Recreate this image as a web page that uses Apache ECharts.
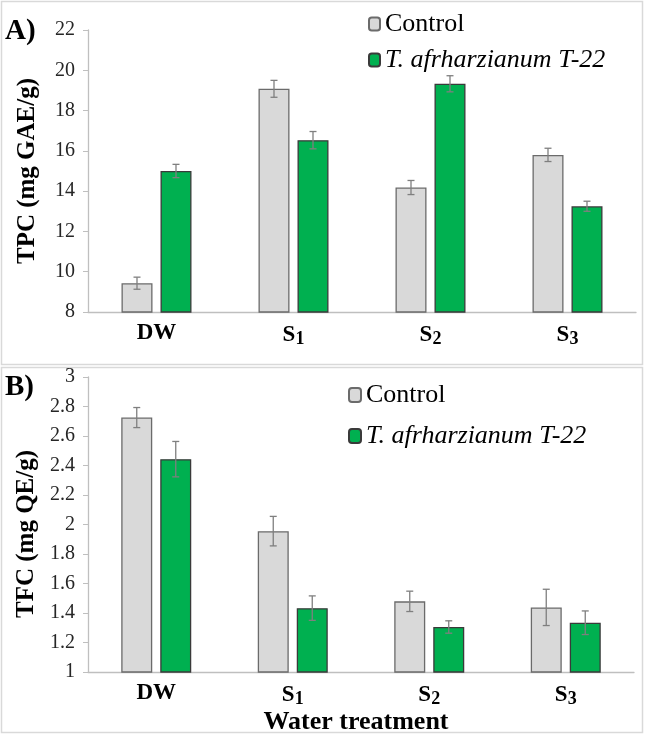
<!DOCTYPE html>
<html>
<head>
<meta charset="utf-8">
<script src="https://cdn.jsdelivr.net/npm/echarts@6/dist/echarts.min.js"></script>
<style>
html,body{margin:0;padding:0;background:#fff;}
#chart{width:645px;height:739px;}
</style>
</head>
<body>
<div id="chart"></div>
<script>
// ---- data ----
var categories = ['DW', 'S1', 'S2', 'S3'];
var seriesNames = ['Control', 'T. afrharzianum T-22'];
// Panel A: TPC (mg GAE/g)
var tpcControl = [9.43, 19.08, 14.18, 15.8];
var tpcControlErr = [0.3, 0.42, 0.35, 0.33];
var tpcTrich = [15.0, 16.53, 19.33, 13.25];
var tpcTrichErr = [0.33, 0.43, 0.4, 0.25];
// Panel B: TFC (mg QE/g)
var tfcControl = [2.725, 1.955, 1.479, 1.438];
var tfcControlErr = [0.068, 0.1, 0.069, 0.123];
var tfcTrich = [2.443, 1.433, 1.305, 1.334];
var tfcTrichErr = [0.12, 0.083, 0.042, 0.08];
// axis ranges / tick spacing
var tpcAxis = {min: 8, max: 22, interval: 2};
var tfcAxis = {min: 1, max: 3, interval: 0.2};

// ---- styling ----
var FONT = 'Liberation Serif';
var GREY = '#d9d9d9', GREEN = '#00b050';
var BAR_W = 31, GAP_PX = 8;
var OFF = (BAR_W + GAP_PX) / 2;

function errRender(offset) {
  return function (params, api) {
    var x = api.value(0), v = api.value(1), e = api.value(2);
    var t = api.coord([x, v + e]);
    var b = api.coord([x, v - e]);
    var cx = t[0] + offset, w = 3.5;
    var st = {stroke: '#7f7f7f', lineWidth: 1.3};
    return {
      type: 'group',
      children: [
        {type: 'line', shape: {x1: cx, y1: t[1], x2: cx, y2: b[1]}, style: st},
        {type: 'line', shape: {x1: cx - w, y1: t[1], x2: cx + w, y2: t[1]}, style: st},
        {type: 'line', shape: {x1: cx - w, y1: b[1], x2: cx + w, y2: b[1]}, style: st}
      ]
    };
  };
}
function errData(vals, errs) {
  return vals.map(function (v, i) { return [i, v, errs[i]]; });
}

function xAxisCfg(gi, withName) {
  var o = {
    type: 'category', gridIndex: gi, data: categories,
    axisLine: {show: true, lineStyle: {color: '#bfbfbf', width: 1.3}},
    axisTick: {show: false},
    axisLabel: {
      margin: 10, fontFamily: FONT,
      formatter: function (v) {
        return v.charAt(0) === 'S' ? '{b|S}{s|' + v.slice(1) + '}' : '{b|' + v + '}';
      },
      rich: {
        b: {fontFamily: FONT, fontWeight: 'bold', fontSize: 23, color: '#000'},
        s: {fontFamily: FONT, fontWeight: 'bold', fontSize: 18, color: '#000', padding: [8, 0, 0, 0]}
      }
    }
  };
  if (withName) {
    o.name = 'Water treatment';
    o.nameLocation = 'middle';
    o.nameGap = 27;
    o.nameTextStyle = {fontFamily: FONT, fontWeight: 'bold', fontSize: 26, color: '#000', padding: [0, 10, 0, 0]};
  }
  return o;
}
function yAxisCfg(gi, rng, name, pad) {
  return {
    type: 'value', gridIndex: gi, min: rng.min, max: rng.max, interval: rng.interval,
    name: name, nameLocation: 'middle', nameGap: 48, nameRotate: 90,
    nameTextStyle: {fontFamily: FONT, fontWeight: 'bold', fontSize: 25, color: '#000', padding: pad},
    axisLine: {show: true, lineStyle: {color: '#bfbfbf', width: 1.3}},
    axisTick: {show: true, length: 5, lineStyle: {color: '#bfbfbf'}},
    splitLine: {show: false},
    axisLabel: {margin: 13, fontFamily: FONT, fontSize: 20, color: '#262626'}
  };
}
function legendCfg(left, top, gap, iw, ih) {
  return {
    data: [
      {name: seriesNames[0]},
      {name: seriesNames[1], textStyle: {fontStyle: 'italic', fontFamily: FONT, fontSize: 26, color: '#000'}}
    ],
    orient: 'vertical', left: left, top: top, itemGap: gap,
    itemWidth: iw, itemHeight: ih,
    textStyle: {fontFamily: FONT, fontSize: 26, color: '#000'}
  };
}
function barSeries(name, data, gi, color, border) {
  return {
    type: 'bar', name: name, data: data, xAxisIndex: gi, yAxisIndex: gi,
    barWidth: BAR_W, barGap: (GAP_PX / BAR_W * 100) + '%',
    itemStyle: {color: color, borderColor: border, borderWidth: 1.3},
    emphasis: {disabled: true}
  };
}
function errSeries(name, vals, errs, gi, offset) {
  return {
    type: 'custom', name: name, xAxisIndex: gi, yAxisIndex: gi,
    data: errData(vals, errs), encode: {x: 0, y: 1},
    renderItem: errRender(offset), z: 5, silent: true
  };
}

var option = {
  animation: false,
  backgroundColor: '#fff',
  grid: [
    {left: 88, right: 9, top: 30, height: 282},
    {left: 88, right: 11, top: 377, height: 295}
  ],
  legend: [legendCfg(363, 6, 10, 11, 13), legendCfg(343, 377, 15, 12, 14)],
  xAxis: [xAxisCfg(0, false), xAxisCfg(1, true)],
  yAxis: [
    yAxisCfg(0, tpcAxis, 'TPC (mg GAE/g)', [0, 0, 0, 0]),
    yAxisCfg(1, tfcAxis, 'TFC (mg QE/g)', [0, 19, 0, 0])
  ],
  series: [
    barSeries(seriesNames[0], tpcControl, 0, GREY, '#6b6b6b'),
    barSeries(seriesNames[1], tpcTrich, 0, GREEN, '#3a3a3a'),
    barSeries(seriesNames[0], tfcControl, 1, GREY, '#6b6b6b'),
    barSeries(seriesNames[1], tfcTrich, 1, GREEN, '#3a3a3a'),
    errSeries('errA0', tpcControl, tpcControlErr, 0, -OFF),
    errSeries('errA1', tpcTrich, tpcTrichErr, 0, OFF),
    errSeries('errB0', tfcControl, tfcControlErr, 1, -OFF),
    errSeries('errB1', tfcTrich, tfcTrichErr, 1, OFF)
  ],
  graphic: [
    {type: 'rect', shape: {x: 1.5, y: 1.5, width: 641, height: 363}, style: {fill: 'none', stroke: '#d9d9d9', lineWidth: 1.5}, silent: true},
    {type: 'rect', shape: {x: 1.5, y: 367.5, width: 641, height: 365}, style: {fill: 'none', stroke: '#d9d9d9', lineWidth: 1.5}, silent: true},
    {type: 'text', left: 5, top: 17, style: {text: 'A)', fontFamily: FONT, fontWeight: 'bold', fontSize: 29, fill: '#000'}},
    {type: 'text', left: 5, top: 373, style: {text: 'B)', fontFamily: FONT, fontWeight: 'bold', fontSize: 29, fill: '#000'}}
  ]
};
var chart = echarts.init(document.getElementById('chart'), null, {renderer: 'canvas'});
chart.setOption(option);
</script>
</body>
</html>
